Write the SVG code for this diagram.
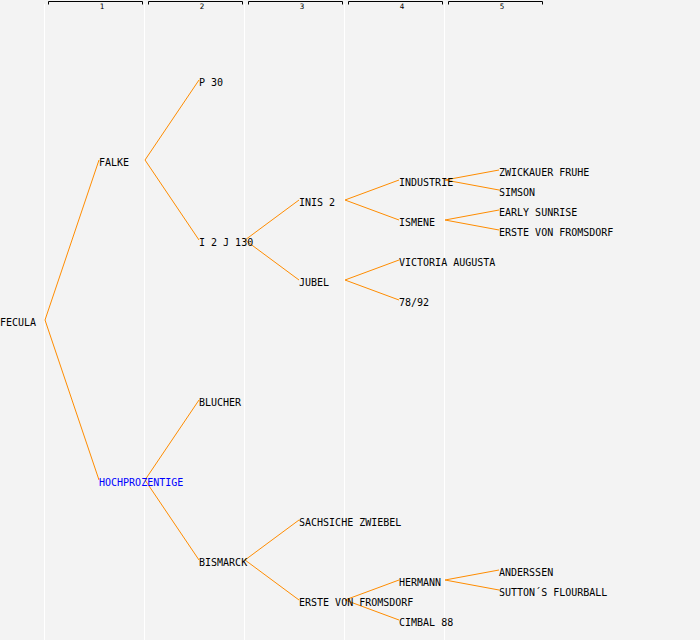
<svg xmlns="http://www.w3.org/2000/svg" width="700" height="640" viewBox="0 0 700 640">
<style>
text{font-family:"DejaVu Sans Mono","Liberation Mono",monospace;font-size:10px;fill:#000}
.hd{font-size:7.5px;text-anchor:middle}
.sep{stroke:#fff;stroke-width:1}
.br{fill:none;stroke:#000;stroke-width:1}
.c{fill:none;stroke:#ff8c00;stroke-width:1}
.blue{fill:#0000ff}
</style>
<rect width="700" height="640" fill="#f3f3f3"/>
<g id="columns">
<line class="sep" x1="44.5" y1="4" x2="44.5" y2="640"/>
<line class="sep" x1="144.5" y1="4" x2="144.5" y2="640"/>
<line class="sep" x1="244.5" y1="4" x2="244.5" y2="640"/>
<line class="sep" x1="344.5" y1="4" x2="344.5" y2="640"/>
<line class="sep" x1="444.5" y1="4" x2="444.5" y2="640"/>
<path class="br" d="M48.5,4.5V1.5H142.5V4.5M148.5,4.5V1.5H242.5V4.5M248.5,4.5V1.5H342.5V4.5M348.5,4.5V1.5H442.5V4.5M448.5,4.5V1.5H542.5V4.5"/>
<text class="hd" x="102" y="9">1</text>
<text class="hd" x="202" y="9">2</text>
<text class="hd" x="302" y="9">3</text>
<text class="hd" x="402" y="9">4</text>
<text class="hd" x="502" y="9">5</text>
</g>
<g id="connectors">
<path class="c" d="M45,320L99,160M45,320L99,480"/>
<path class="c" d="M145,160L199,80M145,160L199,240"/>
<path class="c" d="M245,240L299,200M245,240L299,280"/>
<path class="c" d="M345,200L399,180M345,200L399,220"/>
<path class="c" d="M445,180L499,170M445,180L499,190"/>
<path class="c" d="M445,220L499,210M445,220L499,230"/>
<path class="c" d="M345,280L399,260M345,280L399,300"/>
<path class="c" d="M145,480L199,400M145,480L199,560"/>
<path class="c" d="M245,560L299,520M245,560L299,600"/>
<path class="c" d="M345,600L399,580M345,600L399,620"/>
<path class="c" d="M445,580L499,570M445,580L499,590"/>
</g>
<g id="n-fecula"><text x="0" y="326">FECULA</text></g>
<g id="n-falke"><text x="99" y="166">FALKE</text></g>
<g id="n-p30"><text x="199" y="86">P 30</text></g>
<g id="n-i2j130"><text x="199" y="246">I 2 J 130</text></g>
<g id="n-inis2"><text x="299" y="206">INIS 2</text></g>
<g id="n-industrie"><text x="399" y="186">INDUSTRIE</text></g>
<g id="n-zwickauer"><text x="499" y="176">ZWICKAUER FRUHE</text></g>
<g id="n-simson"><text x="499" y="196">SIMSON</text></g>
<g id="n-ismene"><text x="399" y="226">ISMENE</text></g>
<g id="n-early"><text x="499" y="216">EARLY SUNRISE</text></g>
<g id="n-erste1"><text x="499" y="236">ERSTE VON FROMSDORF</text></g>
<g id="n-jubel"><text x="299" y="286">JUBEL</text></g>
<g id="n-victoria"><text x="399" y="266">VICTORIA AUGUSTA</text></g>
<g id="n-7892"><text x="399" y="306">78/92</text></g>
<g id="n-hochprozentige"><text class="blue" x="99" y="486">HOCHPROZENTIGE</text></g>
<g id="n-blucher"><text x="199" y="406">BLUCHER</text></g>
<g id="n-bismarck"><text x="199" y="566">BISMARCK</text></g>
<g id="n-sachsiche"><text x="299" y="526">SACHSICHE ZWIEBEL</text></g>
<g id="n-erste2"><text x="299" y="606">ERSTE VON FROMSDORF</text></g>
<g id="n-hermann"><text x="399" y="586">HERMANN</text></g>
<g id="n-anderssen"><text x="499" y="576">ANDERSSEN</text></g>
<g id="n-sutton"><text x="499" y="596">SUTTON´S FLOURBALL</text></g>
<g id="n-cimbal"><text x="399" y="626">CIMBAL 88</text></g>
</svg>
